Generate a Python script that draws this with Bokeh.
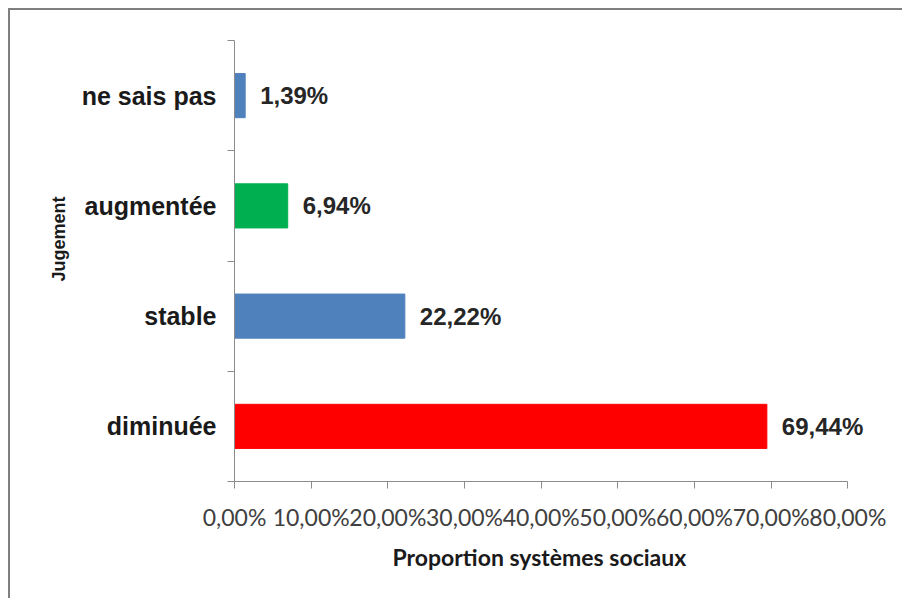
from bokeh.plotting import figure
from bokeh.models import FixedTicker, CustomJSTickFormatter, Title, ColumnDataSource, Range1d
from bokeh.embed import file_html
from bokeh.resources import INLINE
from bokeh.core.properties import value

# ---- data ----
categories = ["diminuée", "stable", "augmentée", "ne sais pas"]
values = [69.44, 22.22, 6.94, 1.39]
colors = ["#FF0000", "#4F81BD", "#00B050", "#4F81BD"]
x_ticks = [0, 10, 20, 30, 40, 50, 60, 70, 80]
x_title = "Proportion systèmes sociaux"
y_title = "Jugement"

positions = [i + 0.5 for i in range(len(categories))]
boundaries = [i for i in range(len(categories) + 1)]
value_labels = [f"{v:.2f}%".replace(".", ",") for v in values]

src = ColumnDataSource(dict(pos=positions, val=values, color=colors, lab=value_labels))

p = figure(width=894, height=590, output_backend="svg", toolbar_location=None,
           x_range=Range1d(0, 84), y_range=Range1d(0, len(categories)),
           min_border_left=224, min_border_right=26, min_border_top=30, min_border_bottom=119,
           styles={"border-left": "2px solid #7f7f7f", "border-top": "2px solid #7f7f7f",
                   "margin-left": "8px", "margin-top": "8px"})
p.outline_line_color = None
p.xgrid.grid_line_color = None
p.ygrid.grid_line_color = None
p.background_fill_color = "white"
p.border_fill_color = "white"

p.hbar(y="pos", left=0, right="val", height=0.4, color="color", source=src)
p.text(x="val", y="pos", text="lab", source=src, x_offset=15,
       text_align="left", text_baseline="middle",
       text_font=value("Liberation Sans"), text_font_style="bold",
       text_font_size="24px", text_color="#262626")

# x axis
xa = p.xaxis[0]
xa.ticker = FixedTicker(ticks=x_ticks)
xa.bounds = (x_ticks[0], x_ticks[-1])
xa.formatter = CustomJSTickFormatter(code="return tick.toFixed(2).replace('.', ',') + '%';")
xa.axis_line_color = "#8c8c8c"
xa.major_tick_line_color = "#8c8c8c"
xa.major_tick_out = 7
xa.major_tick_in = 0
xa.minor_tick_line_color = None
xa.major_label_text_font = "Lato"
xa.major_label_text_font_size = "23px"
xa.major_label_text_color = "#404040"
xa.major_label_standoff = 14

# y axis
ya = p.yaxis[0]
ya.ticker = FixedTicker(ticks=positions, minor_ticks=boundaries)
ya.major_label_overrides = {pos: cat for pos, cat in zip(positions, categories)}
ya.axis_line_color = "#8c8c8c"
ya.major_tick_line_color = None
ya.major_tick_out = 0
ya.major_tick_in = 0
ya.minor_tick_line_color = "#8c8c8c"
ya.minor_tick_out = 7
ya.minor_tick_in = 0
ya.major_label_text_font = "Liberation Sans"
ya.major_label_text_font_style = "bold"
ya.major_label_text_font_size = "25px"
ya.major_label_text_color = "#1a1a1a"
ya.major_label_standoff = 11

# axis titles as side titles (offset from frame edges)
p.add_layout(Title(text=x_title, align="left", offset=158, standoff=14,
                   text_font="Lato", text_font_style="bold",
                   text_font_size="23px", text_color="#1a1a1a"), "below")
p.add_layout(Title(text=y_title, align="left", offset=200, standoff=20,
                   text_font="Liberation Sans", text_font_style="bold",
                   text_font_size="18px", text_color="#1a1a1a"), "left")

open("out.html", "w").write(file_html(p, INLINE))
